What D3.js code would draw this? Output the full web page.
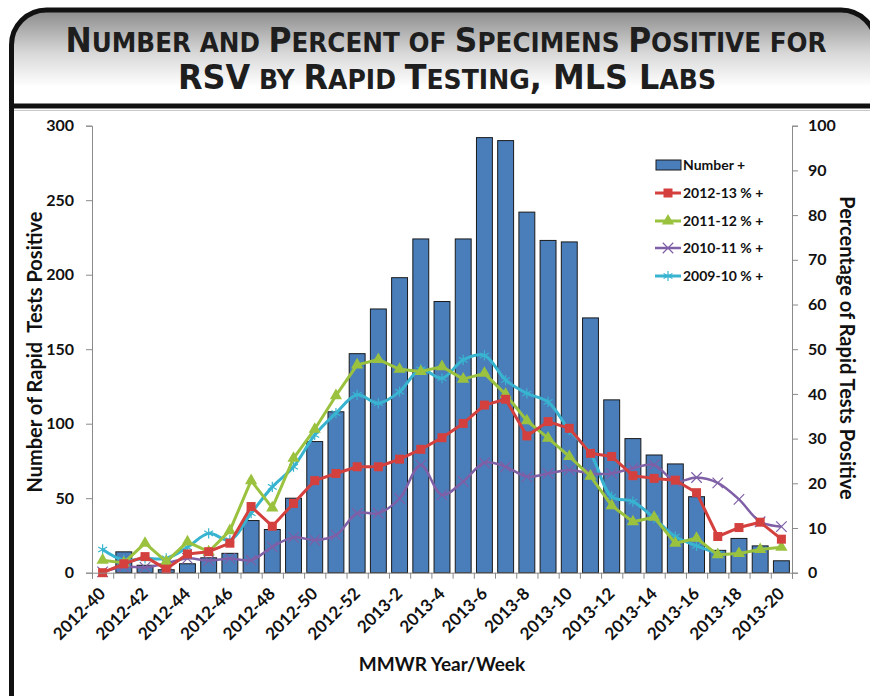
<!DOCTYPE html>
<html>
<head>
<meta charset="utf-8">
<script src="https://cdn.jsdelivr.net/npm/d3@7"></script>
<style>
  body { margin: 0; background: #fff; }
  svg { display: block; }
  .lbl { font-family: Lato, "Open Sans", sans-serif; font-weight: 700; fill: #111; }
</style>
</head>
<body>
<svg id="graph" width="870" height="696"></svg>
<script>
// semanas MMWR
var weeks = ["2012-40","2012-41","2012-42","2012-43","2012-44","2012-45","2012-46","2012-47","2012-48","2012-49",
  "2012-50","2012-51","2012-52","2013-1","2013-2","2013-3","2013-4","2013-5","2013-6","2013-7","2013-8","2013-9",
  "2013-10","2013-11","2013-12","2013-13","2013-14","2013-15","2013-16","2013-17","2013-18","2013-19","2013-20"];
var tickWeeks = ["2012-40","2012-42","2012-44","2012-46","2012-48","2012-50","2012-52","2013-2","2013-4","2013-6",
  "2013-8","2013-10","2013-12","2013-14","2013-16","2013-18","2013-20"];

// numero de pruebas rapidas positivas
var numPositive = [0,14,5,2,6,10,13,35,29,50,88,108,147,177,198,224,182,224,292,290,242,223,222,171,116,90,79,73,51,15,23,18,8];

// porcentaje positivo por temporada
var pct1213 = [0,2,3.6,0.8,4.2,4.7,6.6,14.8,10.4,15.5,20.6,22.2,23.7,23.7,25.4,27.6,30.2,33.4,37.5,38.8,30.6,33.8,32.3,26.7,26,21.7,21.1,20.7,17.9,8.1,10.1,11.3,7.5];
var pct1112 = [2.8,2.2,6.6,2.5,6.9,4.7,9.4,20.6,14.5,25.6,32.1,39.6,46.5,47.7,45.5,45,46.1,43.3,44.6,39.9,34,30.1,26,21.6,15,11.4,12.4,6.6,7.7,4,4.3,5.2,5.7];
var pct1011 = [0.2,1.3,1.2,2.1,3.2,2.7,3.2,2.8,5.8,7.9,7.3,8.4,13.3,13.3,16.6,24.1,17.4,20.4,24.6,23.7,21.5,22.2,23,22.2,22.2,23.4,24.1,20.4,21.3,20.1,16.4,11.4,10.3];
var pct0910 = [5.2,2.8,3.2,3.2,5.7,8.8,7.3,13.3,19.2,23.7,30.8,35.7,39.8,37.9,40.5,45.5,43.5,47.6,48.6,43.1,40.1,38.2,31.9,26.7,17,15.9,12.2,8.1,6,4.3];

var seriesNames = ["2012-13 % +","2011-12 % +","2010-11 % +","2009-10 % +"];

var svg = d3.select("#graph");

// ---- marco y titulo ----
var defs = svg.append("defs");
var grad = defs.append("linearGradient").attr("id", "titleGrad")
  .attr("x1", 0).attr("y1", 0).attr("x2", 0).attr("y2", 1);
grad.append("stop").attr("offset", "0%").attr("stop-color", "#8a8a8a");
grad.append("stop").attr("offset", "45%").attr("stop-color", "#d8d8d8");
grad.append("stop").attr("offset", "80%").attr("stop-color", "#ffffff");

var L = 11.5, T = 10, R = 876, rad = 35;
svg.append("path")
  .attr("d", "M" + L + ",106 V" + (T + rad) + " A" + rad + "," + rad + " 0 0 1 " + (L + rad) + "," + T +
    " H" + (R - rad) + " A" + rad + "," + rad + " 0 0 1 " + R + "," + (T + rad) + " V106 Z")
  .attr("fill", "url(#titleGrad)");
svg.append("path")
  .attr("d", "M" + L + ",720 V" + (T + rad) + " A" + rad + "," + rad + " 0 0 1 " + (L + rad) + "," + T +
    " H" + (R - rad) + " A" + rad + "," + rad + " 0 0 1 " + R + "," + (T + rad) + " V720")
  .attr("fill", "none").attr("stroke", "#111").attr("stroke-width", 5);
svg.append("line").attr("x1", L).attr("x2", R).attr("y1", 106).attr("y2", 106)
  .attr("stroke", "#111").attr("stroke-width", 5);
svg.append("line").attr("x1", 14).attr("x2", 870).attr("y1", 110.5).attr("y2", 110.5)
  .attr("stroke", "#c8c8c8").attr("stroke-width", 1);

function smallCaps(textSel, parts) {
  parts.forEach(function (p) {
    textSel.append("tspan").attr("font-size", p[1] ? 33 : 26).text(p[0]);
  });
}
var titleFont = '"DejaVu Sans Condensed","Liberation Sans Narrow","Liberation Sans",Arial,sans-serif';
var t1 = svg.append("text").attr("x", 446).attr("y", 52).attr("text-anchor", "middle")
  .attr("font-family", titleFont).attr("font-weight", 700).attr("fill", "#1e1e1e")
  .attr("textLength", 761).attr("lengthAdjust", "spacingAndGlyphs");
smallCaps(t1, [["N",1],["UMBER AND ",0],["P",1],["ERCENT OF ",0],["S",1],["PECIMENS ",0],["P",1],["OSITIVE FOR",0]]);
var t2 = svg.append("text").attr("x", 447).attr("y", 89).attr("text-anchor", "middle")
  .attr("font-family", titleFont).attr("font-weight", 700).attr("fill", "#1e1e1e")
  .attr("textLength", 538).attr("lengthAdjust", "spacingAndGlyphs");
smallCaps(t2, [["RSV",1],[" BY ",0],["R",1],["APID ",0],["T",1],["ESTING",0],[", MLS L",1],["ABS",0]]);

// ---- grafica ----
var x0 = 92, x1 = 792, yTop = 125.7, yBot = 572.7;

var x = d3.scaleBand().domain(weeks).range([x0, x1]).paddingInner(0.25).paddingOuter(0.125);
var xc = function (i) { return x(weeks[i]) + x.bandwidth() / 2; };
var y = d3.scaleLinear().domain([0, 300]).range([yBot, yTop]);
var y2 = d3.scaleLinear().domain([0, 100]).range([yBot, yTop]);

var g = svg.append("g");

// barras
g.append("g").selectAll("rect")
  .data(numPositive)
  .enter().append("rect")
  .attr("x", (d, i) => x(weeks[i]))
  .attr("y", d => y(d))
  .attr("width", x.bandwidth())
  .attr("height", d => yBot - y(d))
  .attr("fill", "#4a7ebb")
  .attr("stroke", "#1a1a1a")
  .attr("stroke-width", d => d > 0 ? 1 : 0);

// ejes
var axisCol = "#8a8a8a";
var yAxisL = svg.append("g").attr("transform", "translate(" + x0 + ",0)")
  .call(d3.axisLeft(y).tickValues(d3.range(0, 301, 50)).tickSize(6).tickPadding(12));
var yAxisR = svg.append("g").attr("transform", "translate(" + x1 + ",0)")
  .call(d3.axisRight(y2).tickValues(d3.range(0, 101, 10)).tickSize(6).tickPadding(10));
// ticks del eje x en los limites de cada semana
var xb = d3.scaleLinear().domain([0, weeks.length]).range([x0, x1]);
var xAxis = svg.append("g").attr("transform", "translate(0," + yBot + ")")
  .call(d3.axisBottom(xb).tickValues(d3.range(0, weeks.length + 1)).tickSize(6).tickFormat(""));
[yAxisL, yAxisR, xAxis].forEach(function (a) {
  a.select(".domain").attr("stroke", axisCol);
  a.selectAll(".tick line").attr("stroke", axisCol);
  a.selectAll("text").attr("class", "lbl").attr("font-size", 16);
});

// etiquetas de semana rotadas
svg.append("g").selectAll("text")
  .data(tickWeeks)
  .enter().append("text")
  .attr("class", "lbl")
  .attr("font-size", 17)
  .attr("text-anchor", "end")
  .attr("transform", d => "translate(" + (xc(weeks.indexOf(d)) + 4) + "," + (yBot + 22) + ") rotate(-45)")
  .text(d => d);

// titulos de ejes
svg.append("text").attr("class", "lbl").attr("font-size", 20).attr("text-anchor", "middle")
  .attr("transform", "translate(42,352) rotate(-90)")
  .attr("xml:space", "preserve")
  .text("Number of Rapid  Tests Positive");
svg.append("text").attr("class", "lbl").attr("font-size", 20).attr("text-anchor", "middle")
  .attr("transform", "translate(840,348) rotate(90)")
  .text("Percentage of Rapid Tests Positive");
svg.append("text").attr("class", "lbl").attr("font-size", 19).attr("text-anchor", "middle")
  .attr("x", 442).attr("y", 671)
  .text("MMWR Year/Week");

// ---- lineas de porcentaje ----
var colors = ["#d3403e", "#9ac23f", "#7f5fa6", "#38b4d0"];
var allPct = [pct1213, pct1112, pct1011, pct0910];
var curves = [d3.curveLinear, d3.curveLinear, d3.curveCatmullRom.alpha(0.5), d3.curveCatmullRom.alpha(0.5)];
var widths = [3, 3, 2.5, 3];

function marker(sel, k, cx, cy, s) {
  var c = colors[k];
  if (k === 0) {
    sel.append("rect").attr("x", cx - s / 2).attr("y", cy - s / 2).attr("width", s).attr("height", s).attr("fill", c);
  } else if (k === 1) {
    sel.append("path").attr("d", d3.symbol(d3.symbolTriangle, s * s * 0.8)()).attr("transform", "translate(" + cx + "," + cy + ")").attr("fill", c);
  } else if (k === 2) {
    sel.append("path").attr("d", d3.symbol(d3.symbolTimes, s * s * 0.9)()).attr("transform", "translate(" + cx + "," + cy + ")")
      .attr("fill", "none").attr("stroke", c).attr("stroke-width", 1.2);
  } else {
    sel.append("path").attr("d", d3.symbol(d3.symbolAsterisk, s * s * 0.9)()).attr("transform", "translate(" + cx + "," + cy + ")")
      .attr("fill", "none").attr("stroke", c).attr("stroke-width", 1.2);
  }
}

// la serie mas antigua va debajo
[3, 2, 1, 0].forEach(function (k) {
  var vals = allPct[k];
  var line = d3.line().x((d, i) => xc(i)).y(d => y2(d)).curve(curves[k]);
  var sg = g.append("g");
  sg.append("path").datum(vals).attr("d", line)
    .attr("fill", "none").attr("stroke", colors[k]).attr("stroke-width", widths[k]).attr("stroke-linejoin", "round");
  vals.forEach(function (v, i) { marker(sg, k, xc(i), y2(v), 9); });
});

// ---- leyenda ----
var leg = svg.append("g");
var legY = [165, 193, 221, 248, 276];
leg.append("rect").attr("x", 656).attr("y", legY[0] - 5).attr("width", 25).attr("height", 10)
  .attr("fill", "#4a7ebb").attr("stroke", "#1a1a1a").attr("stroke-width", 1);
leg.append("text").attr("class", "lbl").attr("font-size", 14).attr("x", 683).attr("y", legY[0] + 5).text("Number +");
seriesNames.forEach(function (name, k) {
  var yy = legY[k + 1];
  leg.append("line").attr("x1", 655).attr("x2", 681).attr("y1", yy).attr("y2", yy)
    .attr("stroke", colors[k]).attr("stroke-width", widths[k]);
  marker(leg, k, 668, yy, 9);
  leg.append("text").attr("class", "lbl").attr("font-size", 14).attr("x", 683).attr("y", yy + 5).text(name);
});
</script>
</body>
</html>
